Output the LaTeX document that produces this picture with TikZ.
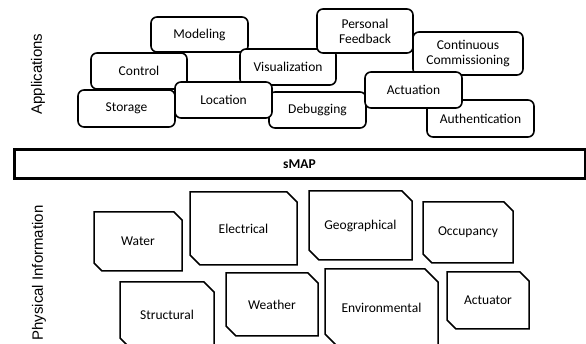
\documentclass[tikz,border=0pt]{standalone}
\usepackage{fontspec}
\setmainfont{Carlito}
\newfontfamily\arialf{Liberation Sans}
\tikzset{
  appbox/.style={draw, line width=1.6pt, rounded corners=6pt, fill=white, inner sep=0pt, align=center,
    font=\fontsize{13.5}{15}\selectfont},
  physline/.style={draw, line width=1.5pt, fill=white, line join=miter},
  physlabel/.style={inner sep=0pt, font=\fontsize{13.5}{15}\selectfont},
  sidelabel/.style={rotate=90, inner sep=0pt, font=\arialf\fontsize{15}{17}\selectfont},
}
\newcommand\chbox[7]{%
  \draw[physline] (#2,#3) -- ({#4-#6},#3) -- (#4,{#3+#6}) -- (#4,#5) -- ({#2+#6},#5) -- (#2,{#5-#6}) -- cycle;
  \node[physlabel] (#1) at ({(#2+#4)/2},{(#3+#5)/2}) {#7};}
\begin{document}
\begin{tikzpicture}[x=1pt,y=-1pt]
\useasboundingbox (0,0) rectangle (586,344);
\clip (0,0) rectangle (586,344);
% side labels
\node[sidelabel] (apps) at (38,74) {Applications};
\node[sidelabel] (phys) at (39,273) {Physical Information};
% applications
\node[appbox, minimum width=97, minimum height=35] (modeling) at (199.5,34.5) {Modeling};
\node[appbox, minimum width=96, minimum height=36] (control) at (139,71) {Control};
\node[appbox, minimum width=96, minimum height=36] (visual) at (288,67) {Visualization};
\node[appbox, minimum width=96, minimum height=44] (personal) at (365,31) {Personal\\Feedback};
\node[appbox, minimum width=110, minimum height=43] (contcomm) at (468,53.5) {Continuous\\Commissioning};
\node[appbox, minimum width=97, minimum height=37] (storage) at (126.5,108.5) {Storage};
\node[appbox, minimum width=97, minimum height=36] (debug) at (317.5,110) {Debugging};
\node[appbox, minimum width=97, minimum height=36] (location) at (223.5,100) {Location};
\node[appbox, minimum width=107, minimum height=37] (auth) at (480.5,118.5) {Authentication};
\node[appbox, minimum width=97, minimum height=36] (actuation) at (413.5,90) {Actuation};
% sMAP bar
\node[draw, line width=3pt, inner sep=0pt, minimum width=571, minimum height=29,
  font=\bfseries\fontsize{13.5}{15}\selectfont] (smap) at (299.5,164.5) {sMAP};
% physical information
\chbox{water}{94}{212}{182}{271}{8}{Water}
\chbox{electrical}{190}{192}{297}{265}{10}{Electrical}
\chbox{geo}{309}{191}{412}{260}{10}{Geographical}
\chbox{occupancy}{423}{202}{513}{263}{9}{Occupancy}
\chbox{structural}{120}{282}{214}{348}{10}{Structural}
\chbox{weather}{226}{273}{318}{336}{10}{Weather}
\chbox{environmental}{325}{269}{438}{347}{13}{Environmental}
\chbox{actuator}{447}{272}{529}{329}{9}{Actuator}
\end{tikzpicture}
\end{document}
